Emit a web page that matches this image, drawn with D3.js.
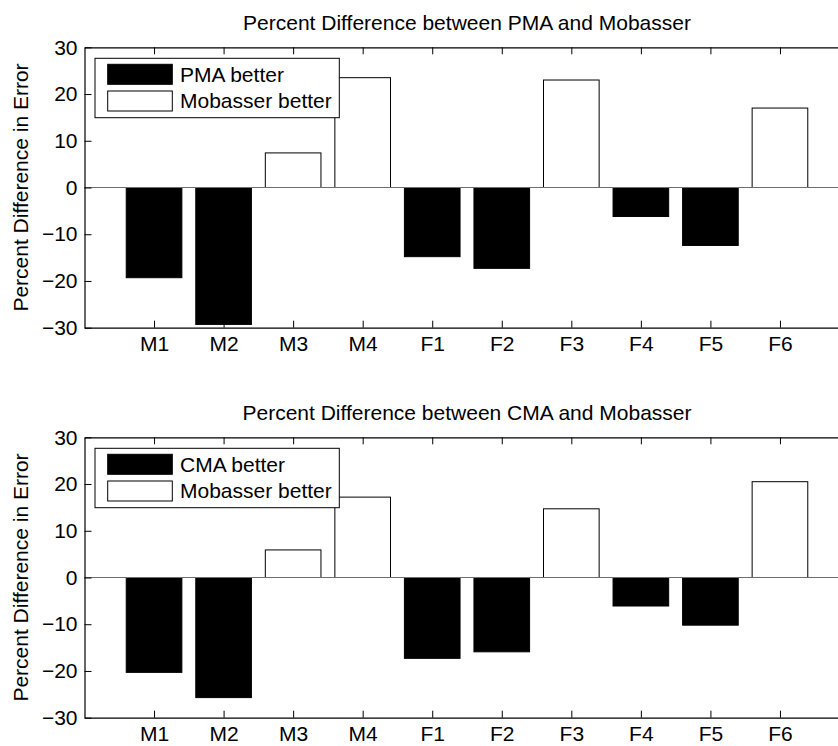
<!DOCTYPE html>
<html>
<head>
<meta charset="utf-8">
<script src="https://cdn.jsdelivr.net/npm/d3@7"></script>
<style>
  body { margin: 0; background: #fff; }
  svg { display: block; font-family: "Liberation Sans", Arial, sans-serif; }
</style>
</head>
<body>
<svg id="chart"></svg>
<script>
// data
var subjects = ["M1", "M2", "M3", "M4", "F1", "F2", "F3", "F4", "F5", "F6"];
var pmaDiff = [-19.3, -29.3, 7.4, 23.5, -14.8, -17.3, 23.0, -6.2, -12.4, 17.0];
var cmaDiff = [-20.3, -25.7, 5.9, 17.2, -17.3, -15.9, 14.7, -6.1, -10.2, 20.5];
var yTicks = [-30, -20, -10, 0, 10, 20, 30];
var titles = ["Percent Difference between PMA and Mobasser", "Percent Difference between CMA and Mobasser"];
var legendLabels = [["PMA better", "Mobasser better"], ["CMA better", "Mobasser better"]];
var yLabel = "Percent Difference in Error";

var svgWidth = 838, svgHeight = 746;
var fontSize = 21;
var left = 84.5, right = 849.5;   // right edge falls outside the window
var panelTop = [47.3, 437.3];
var panelHeight = 280.4;
var barWidth = 0.8;

var svg = d3.select("#chart")
  .attr("width", svgWidth)
  .attr("height", svgHeight);

var x = d3.scaleLinear().domain([0, subjects.length + 1]).range([left, right]);

function drawPanel(p, values) {
  var top = panelTop[p];
  var bottom = top + panelHeight;
  var y = d3.scaleLinear().domain([-30, 30]).range([bottom, top]);
  var g = svg.append("g");

  // title
  g.append("text")
    .attr("x", (left + right) / 2)
    .attr("y", top - 17.3)
    .attr("text-anchor", "middle")
    .style("font-size", fontSize + "px")
    .text(titles[p]);

  // y label
  g.append("text")
    .attr("transform", "translate(28," + (top + bottom) / 2 + ") rotate(-90)")
    .attr("text-anchor", "middle")
    .style("font-size", fontSize + "px")
    .text(yLabel);

  // bars
  g.selectAll("rect.bar")
    .data(values)
    .enter()
    .append("rect")
    .attr("class", "bar")
    .attr("x", function(d, i) { return x(i + 1 - barWidth / 2); })
    .attr("width", function() { return x(barWidth) - x(0); })
    .attr("y", function(d) { return y(Math.max(d, 0)); })
    .attr("height", function(d) { return Math.abs(y(d) - y(0)); })
    .attr("fill", function(d) { return d < 0 ? "#000" : "#fff"; })
    .attr("stroke", "#000")
    .attr("stroke-width", 1);

  // zero baseline
  g.append("line")
    .attr("x1", left).attr("x2", right)
    .attr("y1", y(0)).attr("y2", y(0))
    .attr("stroke", "#6e6e6e")
    .attr("stroke-width", 1.2);

  // axes (ticks point inward, matlab style)
  var xTickVals = subjects.map(function(d, i) { return i + 1; });

  var xAxis = g.append("g")
    .attr("transform", "translate(0," + bottom + ")")
    .call(d3.axisBottom(x).tickValues(xTickVals)
      .tickFormat(function(d) { return subjects[d - 1]; })
      .tickSize(-7).tickSizeOuter(0).tickPadding(8));

  var xTop = g.append("g")
    .attr("transform", "translate(0," + top + ")")
    .call(d3.axisTop(x).tickValues(xTickVals).tickFormat("")
      .tickSize(-7).tickSizeOuter(0));

  var yAxis = g.append("g")
    .attr("transform", "translate(" + left + ",0)")
    .call(d3.axisLeft(y).tickValues(yTicks)
      .tickSize(-7).tickSizeOuter(0).tickPadding(7));

  var yRight = g.append("g")
    .attr("transform", "translate(" + right + ",0)")
    .call(d3.axisRight(y).tickValues(yTicks).tickFormat("")
      .tickSize(-7).tickSizeOuter(0));

  [xAxis, xTop, yAxis, yRight].forEach(function(a) {
    a.selectAll("path").attr("stroke", "#000").attr("stroke-width", 1.2);
    a.selectAll("line").attr("stroke", "#000").attr("stroke-width", 1);
    a.selectAll("text")
      .attr("fill", "#000")
      .style("font-size", fontSize + "px")
      .style("font-family", "'Liberation Sans', Arial, sans-serif");
  });

  // legend
  var lg = g.append("g").attr("transform", "translate(95," + (top + 11) + ")");
  lg.append("rect")
    .attr("width", 244.3).attr("height", 59.4)
    .attr("fill", "#fff").attr("stroke", "#000").attr("stroke-width", 1);

  var legendFill = ["#000", "#fff"];
  legendLabels[p].forEach(function(lab, k) {
    lg.append("rect")
      .attr("x", 12.7).attr("y", 6 + k * 26.7)
      .attr("width", 64.6).attr("height", 20)
      .attr("fill", legendFill[k]).attr("stroke", "#000").attr("stroke-width", 1);
    lg.append("text")
      .attr("x", 85).attr("y", 23.5 + k * 26.7)
      .style("font-size", fontSize + "px")
      .text(lab);
  });
}

drawPanel(0, pmaDiff);
drawPanel(1, cmaDiff);
</script>
</body>
</html>
